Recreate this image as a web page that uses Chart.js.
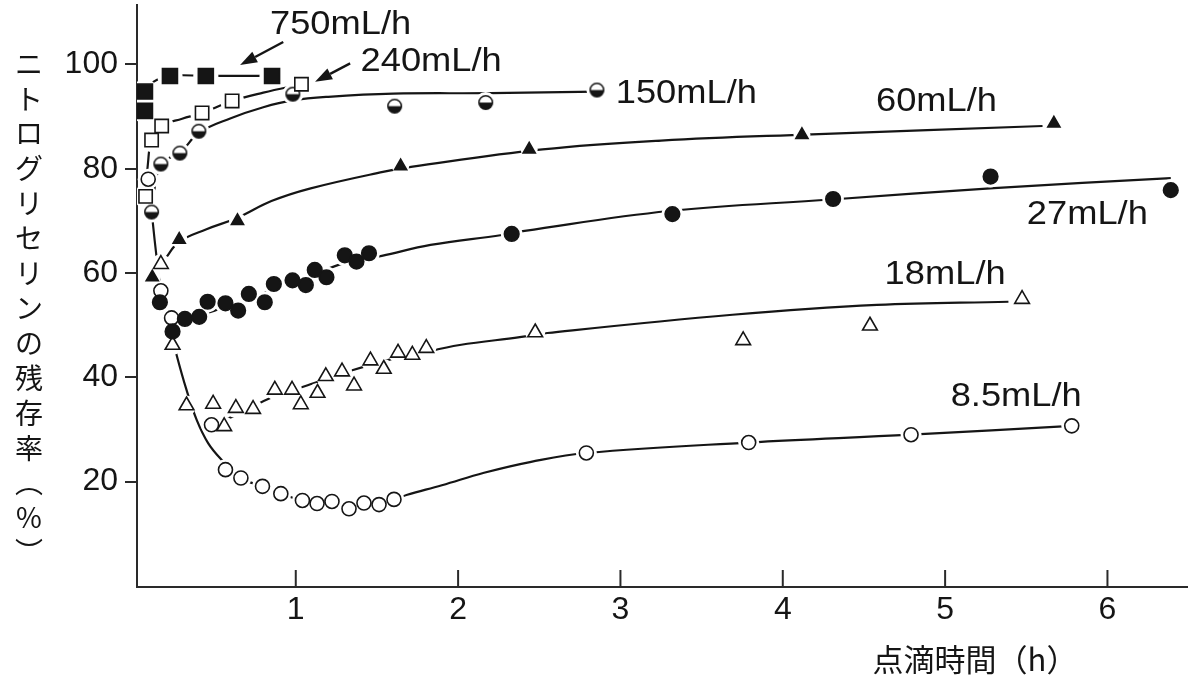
<!DOCTYPE html>
<html lang="ja">
<head>
<meta charset="utf-8">
<title>ニトログリセリンの残存率</title>
<script src="https://cdn.jsdelivr.net/npm/chart.js@4.4.1/dist/chart.umd.min.js"></script>
<style>
  html, body { margin: 0; padding: 0; background: #fff; }
  #wrap { width: 1200px; height: 679px; position: relative; }
</style>
</head>
<body>
<div id="wrap"><canvas id="myChart"></canvas></div>
<script>
// measured points: drip time (h) and remaining nitroglycerin (%)
const t750 = [0.071, 0.071, 0.225, 0.446, 0.854];
const p750 = [91.1, 94.8, 97.8, 97.8, 97.8];
const t240 = [0.075, 0.112, 0.174, 0.423, 0.608, 1.035];
const p240 = [74.7, 85.5, 88.2, 90.7, 93.0, 96.2];
const t150 = [0.112, 0.169, 0.286, 0.403, 0.982, 1.609, 2.17, 2.855];
const p150 = [71.7, 80.9, 83.0, 87.2, 94.3, 92.0, 92.7, 95.1];
const t60 = [0.116, 0.282, 0.641, 1.646, 2.438, 4.118, 5.67];
const p60 = [59.2, 66.4, 70.0, 80.5, 83.7, 86.5, 88.7];
const t27 = [0.163, 0.241, 0.317, 0.405, 0.457, 0.567, 0.645, 0.711, 0.809, 0.865, 0.98,
             1.062, 1.117, 1.189, 1.302, 1.374, 1.451, 2.33, 3.32, 4.31, 5.28, 6.39];
const p27 = [54.4, 48.8, 51.2, 51.6, 54.5, 54.2, 52.8, 56.0, 54.4, 57.9, 58.6,
             57.7, 60.6, 59.2, 63.4, 62.2, 63.8, 67.5, 71.3, 74.2, 78.5, 75.9];
const t18 = [0.169, 0.241, 0.327, 0.491, 0.559, 0.631, 0.737, 0.871, 0.977, 1.031, 1.134, 1.185,
             1.285, 1.359, 1.46, 1.542, 1.63, 1.718, 1.804, 2.475, 3.756, 4.537, 5.474];
const p18 = [61.7, 46.2, 34.6, 34.9, 30.6, 34.1, 33.9, 37.6, 37.6, 34.8, 37.0, 40.2,
             41.1, 38.4, 43.2, 41.6, 44.7, 44.3, 45.6, 48.6, 47.1, 49.9, 55.0];
const t8 = [0.091, 0.169, 0.235, 0.481, 0.567, 0.662, 0.795, 0.908, 1.041, 1.131, 1.223,
            1.328, 1.42, 1.513, 1.605, 2.79, 3.79, 4.79, 5.78];
const p8 = [78.0, 56.6, 51.4, 30.9, 22.3, 20.7, 19.1, 17.7, 16.4, 15.8, 16.2,
            14.8, 15.9, 15.6, 16.6, 25.5, 27.5, 29.0, 30.7];

// hand-drawn trend curves
const c750t = [0.071, 0.071, 0.12, 0.225, 0.446, 0.854];
const c750p = [91.1, 94.8, 96.6, 97.8, 97.8, 97.8];
const c240t = [0.075, 0.09, 0.112, 0.174, 0.3, 0.423, 0.608, 0.8, 1.035];
const c240p = [74.7, 81.2, 85.5, 88.2, 89.6, 90.7, 93.0, 94.6, 96.2];
const c150t = [0.112, 0.169, 0.286, 0.403, 0.6, 0.8, 0.98, 1.2, 1.6, 2.2, 2.855];
const c150p = [71.7, 80.9, 83.0, 86.9, 89.7, 91.8, 93.1, 93.8, 94.4, 94.5, 94.8];
const c60t = [0.116, 0.2, 0.282, 0.45, 0.641, 0.85, 1.086, 1.537, 1.72, 2.52, 3.25, 4.18, 5.6];
const c60p = [59.2, 62.9, 66.0, 68.4, 70.6, 73.8, 76.2, 79.4, 80.4, 83.7, 85.4, 86.6, 88.2];
const c27t = [0.163, 0.241, 0.33, 0.5, 0.7, 0.9, 1.1, 1.3, 1.53, 1.83, 2.27, 2.41, 3.3, 4.3, 5.3, 6.39];
const c27p = [54.4, 49.6, 51.1, 52.8, 54.9, 57.3, 59.6, 61.9, 63.3, 65.4, 67.3, 68.1, 71.9, 74.1, 76.3, 78.2];
const c18t = [0.5, 0.573, 0.686, 0.84, 1.055, 1.343, 1.578, 1.722, 2.01, 2.38, 2.55, 3.69, 4.58, 5.39];
const c18p = [31.4, 32.0, 33.6, 36.0, 38.3, 41.3, 43.4, 44.3, 46.2, 47.7, 48.5, 52.0, 53.9, 54.5];
const c8t = [0.091, 0.169, 0.215, 0.266, 0.327, 0.389, 0.46, 0.543, 0.662, 0.795, 0.908, 1.041,
             1.22, 1.42, 1.605, 1.687, 1.9, 2.16, 2.45, 2.79, 3.79, 4.79, 5.78];
const c8p = [78.0, 56.6, 50.8, 44.3, 37.6, 31.9, 27.4, 24.2, 20.7, 19.1, 17.7, 16.4,
             16.0, 15.9, 16.6, 17.5, 19.3, 21.7, 23.8, 25.5, 27.5, 29.0, 30.7];

const xTicks = [1, 2, 3, 4, 5, 6];
const yTicks = [20, 40, 60, 80, 100];

const INK = '#151515';

function halfDot(r) {
  const c = document.createElement('canvas');
  const s = Math.ceil(2 * r + 3);
  c.width = c.height = s;
  const g = c.getContext('2d');
  const m = s / 2;
  g.fillStyle = '#fff';
  g.beginPath(); g.arc(m, m, r, 0, 2 * Math.PI); g.fill();
  g.fillStyle = INK;
  g.beginPath(); g.arc(m, m, r, 0, Math.PI); g.closePath(); g.fill();
  g.strokeStyle = INK; g.lineWidth = 1.5;
  g.beginPath(); g.arc(m, m, r, 0, 2 * Math.PI); g.stroke();
  return c;
}

const series = [
  { name: '750mL/h', t: t750, p: p750, ct: c750t, cp: c750p, style: 'rect', size: 10.6, fill: INK, gap: 2 },
  { name: '240mL/h', t: t240, p: p240, ct: c240t, cp: c240p, style: 'rect', size: 9.4, fill: '#fff', gap: 2.5 },
  { name: '150mL/h', t: t150, p: p150, ct: c150t, cp: c150p, style: halfDot(6.8), size: 7, fill: '#fff', gap: 3.5 },
  { name: '60mL/h', t: t60, p: p60, ct: c60t, cp: c60p, style: 'triangle', size: 7, fill: INK, gap: 1.5 },
  { name: '27mL/h', t: t27, p: p27, ct: c27t, cp: c27p, style: 'circle', size: 7.3, fill: INK, gap: 3.5 },
  { name: '18mL/h', t: t18, p: p18, ct: c18t, cp: c18p, style: 'triangle', size: 8.5, fill: '#fff', gap: 1.5 },
  { name: '8.5mL/h', t: t8, p: p8, ct: c8t, cp: c8p, style: 'circle', size: 7, fill: '#fff', gap: 3.5 }
];

// where each rate label and arrow sits (data units)
const tags = [
  { text: '750mL/h', x: 1.276, y: 107.6 },
  { text: '240mL/h', x: 1.834, y: 100.4 },
  { text: '150mL/h', x: 3.406, y: 94.3 },
  { text: '60mL/h', x: 4.947, y: 92.9 },
  { text: '27mL/h', x: 5.876, y: 71.1 },
  { text: '18mL/h', x: 5.0, y: 59.7 },
  { text: '8.5mL/h', x: 5.438, y: 36.2 }
];
const arrows = [
  { x1: 0.923, y1: 104.3, x2: 0.657, y2: 99.9 },
  { x1: 1.335, y1: 100.2, x2: 1.119, y2: 96.7 }
];

const datasets = [];
series.forEach(s => {
  const pts = s.t.map((v, i) => ({ x: v, y: s.p[i] }));
  datasets.push({
    label: s.name + ' curve',
    data: s.ct.map((v, i) => ({ x: v, y: s.cp[i] })),
    showLine: true, tension: 0.4,
    borderColor: INK, borderWidth: 2.2,
    pointRadius: 0, order: 3
  });
  datasets.push({
    label: s.name + ' gap',
    data: pts,
    pointStyle: 'circle', pointRadius: s.size + s.gap,
    pointBackgroundColor: '#fff', pointBorderWidth: 0, order: 2
  });
  datasets.push({
    label: s.name,
    data: pts,
    pointStyle: s.style, pointRadius: s.size,
    pointBackgroundColor: s.fill, pointBorderColor: INK, pointBorderWidth: 1.6, order: 1
  });
});

const decor = {
  id: 'decor',
  afterDraw(chart) {
    const { ctx, chartArea } = chart;
    const x = chart.scales.x, y = chart.scales.y;
    ctx.save();
    // ticks on the time axis point inwards
    ctx.strokeStyle = '#2a2a2a';
    ctx.lineWidth = 2;
    xTicks.forEach(v => {
      const px = x.getPixelForValue(v);
      ctx.beginPath();
      ctx.moveTo(px, chartArea.bottom);
      ctx.lineTo(px, chartArea.bottom - 17);
      ctx.stroke();
    });

    ctx.fillStyle = INK;
    ctx.font = '33px "Liberation Sans", Arial, sans-serif';
    ctx.textAlign = 'center';
    ctx.textBaseline = 'middle';
    tags.forEach(tg => {
      ctx.save();
      ctx.translate(x.getPixelForValue(tg.x), y.getPixelForValue(tg.y));
      ctx.scale(1.1, 1);
      ctx.fillText(tg.text, 0, 0);
      ctx.restore();
    });

    ctx.strokeStyle = INK;
    ctx.lineWidth = 2.4;
    arrows.forEach(a => {
      const x1 = x.getPixelForValue(a.x1), y1 = y.getPixelForValue(a.y1);
      const x2 = x.getPixelForValue(a.x2), y2 = y.getPixelForValue(a.y2);
      const ang = Math.atan2(y2 - y1, x2 - x1), L = 17, W = 6;
      const bx = x2 - L * Math.cos(ang), by = y2 - L * Math.sin(ang);
      ctx.beginPath(); ctx.moveTo(x1, y1); ctx.lineTo(bx, by); ctx.stroke();
      ctx.beginPath();
      ctx.moveTo(x2, y2);
      ctx.lineTo(bx + W * Math.sin(ang), by - W * Math.cos(ang));
      ctx.lineTo(bx - W * Math.sin(ang), by + W * Math.cos(ang));
      ctx.closePath(); ctx.fill();
    });

    // axis titles
    ctx.font = '31px "Noto Sans CJK JP", sans-serif';
    ctx.fillText('点滴時間（h）', 975, 659);
    const vChars = ['ニ', 'ト', 'ロ', 'グ', 'リ', 'セ', 'リ', 'ン', 'の', '残', '存', '率', '︵', '%', '︶'];
    ctx.font = '28px "Noto Sans CJK JP", sans-serif';
    vChars.forEach((ch, i) => ctx.fillText(ch, 29, 64 + i * 34.9));
    ctx.restore();
  }
};

new Chart(document.getElementById('myChart'), {
  type: 'scatter',
  data: { datasets },
  options: {
    responsive: true,
    maintainAspectRatio: false,
    animation: false,
    layout: { autoPadding: false, padding: { top: 5, right: 13, left: 0, bottom: 0 } },
    plugins: { legend: { display: false }, tooltip: { enabled: false } },
    scales: {
      x: {
        type: 'linear', position: 'bottom',
        min: 0.022, max: 6.49,
        afterBuildTicks: sc => { sc.ticks = xTicks.map(v => ({ value: v })); },
        afterFit: sc => { sc.height = 92; sc.paddingLeft = 0; sc.paddingRight = 0; },
        grid: { display: false, drawTicks: false },
        border: { display: true, color: '#2a2a2a', width: 2 },
        ticks: { color: INK, padding: 4, font: { family: '"Liberation Sans", Arial, sans-serif', size: 32 } }
      },
      y: {
        type: 'linear', position: 'left',
        min: -0.2, max: 111.4,
        afterBuildTicks: sc => { sc.ticks = yTicks.map(v => ({ value: v })); },
        afterFit: sc => { sc.width = 137; sc.paddingTop = 0; sc.paddingBottom = 0; },
        grid: { display: true, drawOnChartArea: false, drawTicks: true, tickLength: 12, color: '#2a2a2a', lineWidth: 2 },
        border: { display: true, color: '#2a2a2a', width: 2 },
        ticks: { color: INK, padding: 7, font: { family: '"Liberation Sans", Arial, sans-serif', size: 32 } }
      }
    }
  },
  plugins: [decor]
});
</script>
</body>
</html>
